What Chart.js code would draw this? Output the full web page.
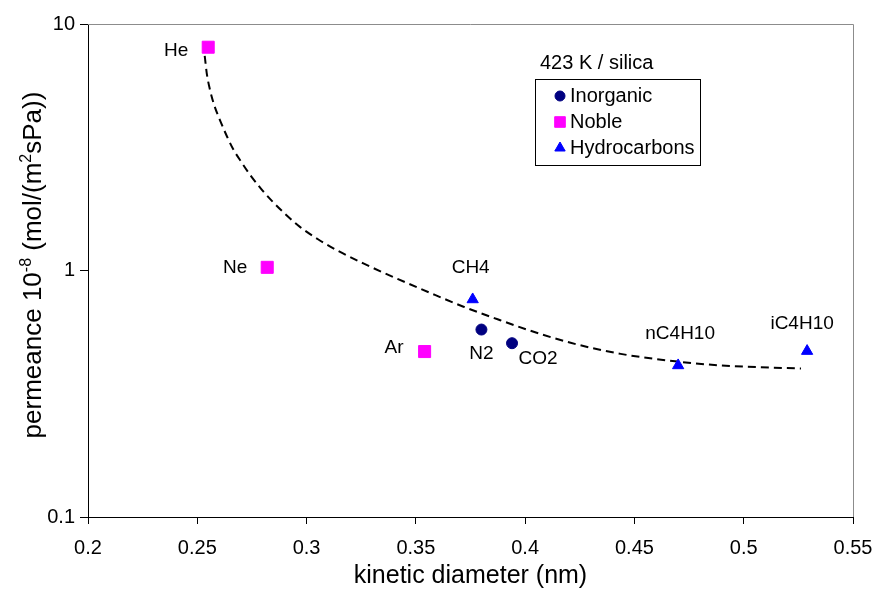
<!DOCTYPE html>
<html>
<head>
<meta charset="utf-8">
<script src="https://cdn.jsdelivr.net/npm/chart.js@4.4.0/dist/chart.umd.min.js"></script>
<style>
  body { margin: 0; background: #fff; }
  #wrap { width: 878px; height: 593px; }
</style>
</head>
<body>
<div id="wrap"><canvas id="permChart"></canvas></div>
<script>
// kinetic diameter (nm) vs permeance (10^-8 mol/(m2 s Pa)), 423 K / silica
const inorganicNames = ['N2', 'CO2'];
const inorganicX = [0.380, 0.394];
const inorganicY = [0.576, 0.507];

const nobleNames = ['He', 'Ne', 'Ar'];
const nobleX = [0.255, 0.282, 0.354];
const nobleY = [8.05, 1.03, 0.469];

const hydroNames = ['CH4', 'nC4H10', 'iC4H10'];
const hydroX = [0.376, 0.470, 0.529];
const hydroY = [0.763, 0.412, 0.471];

// dashed trend curve
const trendX = [0.2534, 0.2543, 0.2557, 0.2577, 0.2605, 0.2637, 0.2664, 0.2701, 0.2742, 0.2793,
                0.2848, 0.2907, 0.2971, 0.3054, 0.3145, 0.326, 0.3416, 0.3567, 0.3718, 0.3874,
                0.4011, 0.4208, 0.4437, 0.4698, 0.4895, 0.5262];
const trendY = [7.43, 6.34, 5.46, 4.70, 4.05, 3.48, 3.11, 2.76, 2.44, 2.14,
                1.89, 1.68, 1.50, 1.336, 1.20, 1.068, 0.925, 0.810, 0.713, 0.634,
                0.575, 0.509, 0.459, 0.427, 0.412, 0.400];

const yTicks = [0.1, 1, 10];
const xMin = 0.2, xMax = 0.55, xStep = 0.05;

const FONT = "'Liberation Sans', Arial, sans-serif";

function toPoints(xs, ys) {
    return xs.map((x, i) => ({ x: x, y: ys[i] }));
}

// where each point name sits relative to its marker
const labelPlace = {
    He: ['right', -20, 4], Ne: ['right', -20, 0], Ar: ['right', -21, -4],
    N2: ['center', 0, 24], CO2: ['center', 26, 16], CH4: ['center', -2, -32],
    nC4H10: ['center', 2, -32], iC4H10: ['center', -5, -27]
};

const legendItems = [
    { text: 'Inorganic', pointStyle: 'circle', color: '#000080', radius: 5 },
    { text: 'Noble', pointStyle: 'rect', color: '#FF00FF', radius: 7.5 },
    { text: 'Hydrocarbons', pointStyle: 'triangle', color: '#0000FF', radius: 6 }
];

const pointLabels = {
    id: 'pointLabels',
    afterDatasetsDraw(chart) {
        const ctx = chart.ctx;
        ctx.save();
        ctx.font = '19px ' + FONT;
        ctx.fillStyle = '#000';
        ctx.textBaseline = 'middle';
        chart.data.datasets.forEach((ds, i) => {
            if (!ds.names) return;
            chart.getDatasetMeta(i).data.forEach((el, j) => {
                const p = labelPlace[ds.names[j]];
                ctx.textAlign = p[0];
                ctx.fillText(ds.names[j], el.x + p[1], el.y + p[2]);
            });
        });
        ctx.restore();
    }
};

const frameAndLegend = {
    id: 'frameAndLegend',
    afterDraw(chart) {
        const ctx = chart.ctx;
        const a = chart.chartArea;
        ctx.save();
        // grey top and right frame
        ctx.strokeStyle = '#8c8c8c';
        ctx.lineWidth = 1;
        ctx.beginPath();
        ctx.moveTo(a.left, a.top + 0.5);
        ctx.lineTo(a.right + 0.5, a.top + 0.5);
        ctx.lineTo(a.right + 0.5, a.bottom);
        ctx.stroke();

        // y axis title with superscripts
        const parts = [['permeance 10', false], ['-8', true], [' (mol/(m', false], ['2', true], ['sPa))', false]];
        const big = 26, small = 16;
        let total = 0;
        parts.forEach(p => {
            ctx.font = (p[1] ? small : big) + 'px ' + FONT;
            total += ctx.measureText(p[0]).width;
        });
        ctx.translate(32, 265);
        ctx.rotate(-Math.PI / 2);
        ctx.fillStyle = '#000';
        ctx.textBaseline = 'alphabetic';
        ctx.textAlign = 'left';
        let x = -total / 2;
        parts.forEach(p => {
            ctx.font = (p[1] ? small : big) + 'px ' + FONT;
            ctx.fillText(p[0], x, p[1] ? -1 : 9);
            x += ctx.measureText(p[0]).width;
        });
        ctx.setTransform(1, 0, 0, 1, 0, 0);

        // legend
        ctx.font = '20px ' + FONT;
        ctx.textBaseline = 'middle';
        ctx.fillText('423 K / silica', 540, 63);
        ctx.fillStyle = '#fff';
        ctx.fillRect(535.5, 79.5, 165, 86);
        ctx.strokeStyle = '#000';
        ctx.strokeRect(535.5, 79.5, 165, 86);
        legendItems.forEach((it, i) => {
            const y = 96 + i * 26;
            ctx.fillStyle = it.color;
            ctx.strokeStyle = it.color;
            Chart.helpers.drawPoint(ctx, {
                pointStyle: it.pointStyle, radius: it.radius, rotation: 0, borderWidth: 1
            }, 560, y);
            ctx.fillStyle = '#000';
            ctx.fillText(it.text, 570, y);
        });
        ctx.restore();
    }
};

new Chart(document.getElementById('permChart'), {
    type: 'scatter',
    data: {
        datasets: [
            {
                label: 'Inorganic', names: inorganicNames,
                data: toPoints(inorganicX, inorganicY),
                pointStyle: 'circle', pointRadius: 5.5,
                backgroundColor: '#000080', borderColor: '#000080', borderWidth: 1
            },
            {
                label: 'Noble', names: nobleNames,
                data: toPoints(nobleX, nobleY),
                pointStyle: 'rect', pointRadius: 8.5,
                backgroundColor: '#FF00FF', borderColor: '#FF00FF', borderWidth: 1
            },
            {
                label: 'Hydrocarbons', names: hydroNames,
                data: toPoints(hydroX, hydroY),
                pointStyle: 'triangle', pointRadius: 6.5,
                backgroundColor: '#0000FF', borderColor: '#0000FF', borderWidth: 1
            },
            {
                label: 'trend',
                data: toPoints(trendX, trendY),
                showLine: true, pointRadius: 0,
                borderColor: '#000', borderWidth: 2, borderDash: [8, 5],
                cubicInterpolationMode: 'monotone', order: 1
            }
        ]
    },
    options: {
        responsive: true,
        maintainAspectRatio: false,
        animation: false,
        layout: { padding: { top: 24, right: 25, left: 0, bottom: 0 } },
        plugins: {
            legend: { display: false },
            tooltip: { enabled: false }
        },
        scales: {
            x: {
                type: 'linear',
                min: xMin, max: xMax,
                afterFit: s => { s.height = 76; s.paddingLeft = 0; s.paddingRight = 0; },
                ticks: {
                    stepSize: xStep,
                    color: '#000',
                    font: { family: FONT, size: 20 },
                    padding: 12,
                    maxRotation: 0,
                    callback: v => String(+v.toFixed(2))
                },
                grid: { drawOnChartArea: false, color: '#000', tickLength: 7 },
                border: { color: '#000', width: 1 },
                title: {
                    display: true,
                    text: 'kinetic diameter (nm)',
                    color: '#000',
                    font: { family: FONT, size: 25 },
                    padding: { top: 0, bottom: 2 }
                }
            },
            y: {
                type: 'logarithmic',
                min: 0.1, max: 10,
                afterFit: s => { s.width = 88; },
                afterBuildTicks: s => { s.ticks = yTicks.map(v => ({ value: v })); },
                ticks: {
                    color: '#000',
                    font: { family: FONT, size: 20 },
                    padding: 5,
                    callback: v => String(v)
                },
                grid: { drawOnChartArea: false, color: '#000', tickLength: 8 },
                border: { color: '#000', width: 1 }
            }
        }
    },
    plugins: [pointLabels, frameAndLegend]
});
</script>
</body>
</html>
